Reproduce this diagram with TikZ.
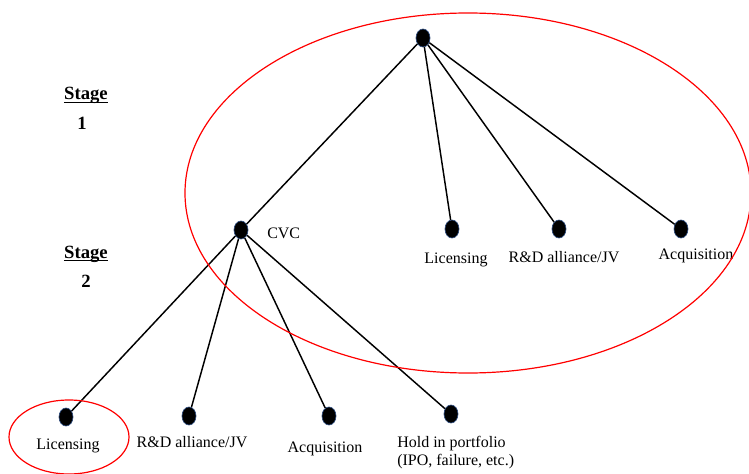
\documentclass[tikz,border=0pt]{standalone}
\usepackage{fontspec}
\setmainfont{Liberation Serif}
\usetikzlibrary{shapes}
\definecolor{dotrim}{RGB}{45,75,125}

\begin{document}
\begin{tikzpicture}[x=.75pt,y=-.75pt,
  dot/.style={ellipse,fill=black,draw=dotrim,line width=.5pt,inner sep=0pt,minimum width=10.5pt,minimum height=13.5pt},
  lbl/.style={font=\fontsize{12}{13.5}\selectfont,inner sep=0pt},
  stg/.style={font=\fontsize{14}{16}\selectfont\bfseries,inner sep=0pt},
  branch/.style={line width=1.1pt},
  ring/.style={red,line width=.9pt}]
\useasboundingbox (0,0) rectangle (749,474);
% stages
\node[stg,anchor=base] (stageA) at (86,100) {Stage};
\node[stg,anchor=base] (numA) at (82,130) {1};
\node[stg,anchor=base] (stageB) at (86,258) {Stage};
\node[stg,anchor=base] (numB) at (86,287) {2};
\foreach \s in {stageA,stageB}
  \draw[line width=.8pt] ([yshift=-1.8pt]\s.base west) -- ([yshift=-1.8pt]\s.base east);
% tree
\node[dot] (root) at (423,38) {};
\node[dot] (cvc) at (241,230) {};
\node[dot] (licA) at (452,229) {};
\node[dot] (rdA) at (559,229) {};
\node[dot] (acqA) at (681,229) {};
\node[dot] (licB) at (66,417) {};
\node[dot] (rdB) at (189,416) {};
\node[dot] (acqB) at (329,416) {};
\node[dot] (hold) at (451,414) {};
\foreach \n in {cvc,licA,rdA,acqA}
  \draw[branch] (root) -- (\n);
\foreach \n in {licB,rdB,acqB,hold}
  \draw[branch] (cvc) -- (\n);
% labels
\node[lbl,anchor=base west] (cvcText) at (267,238) {CVC};
\node[lbl,anchor=base] (licAText) at (456,263) {Licensing};
\node[lbl,anchor=base] (rdAText) at (564,262) {R\&D alliance/JV};
\node[lbl,anchor=base] (acqAText) at (696,259) {Acquisition};
\node[lbl,anchor=base] (licBText) at (68,449) {Licensing};
\node[lbl,anchor=base] (rdBText) at (192,447) {R\&D alliance/JV};
\node[lbl,anchor=base] (acqBText) at (325,452) {Acquisition};
\node[lbl,anchor=north west,align=left] (holdText) at (397,436) {Hold in portfolio\\(IPO, failure, etc.)};
% circled choices
\draw[ring] (468,193) ellipse (212.25pt and 135pt);
\draw[ring] (69,437) ellipse (45pt and 27.75pt);
\end{tikzpicture}
\end{document}
